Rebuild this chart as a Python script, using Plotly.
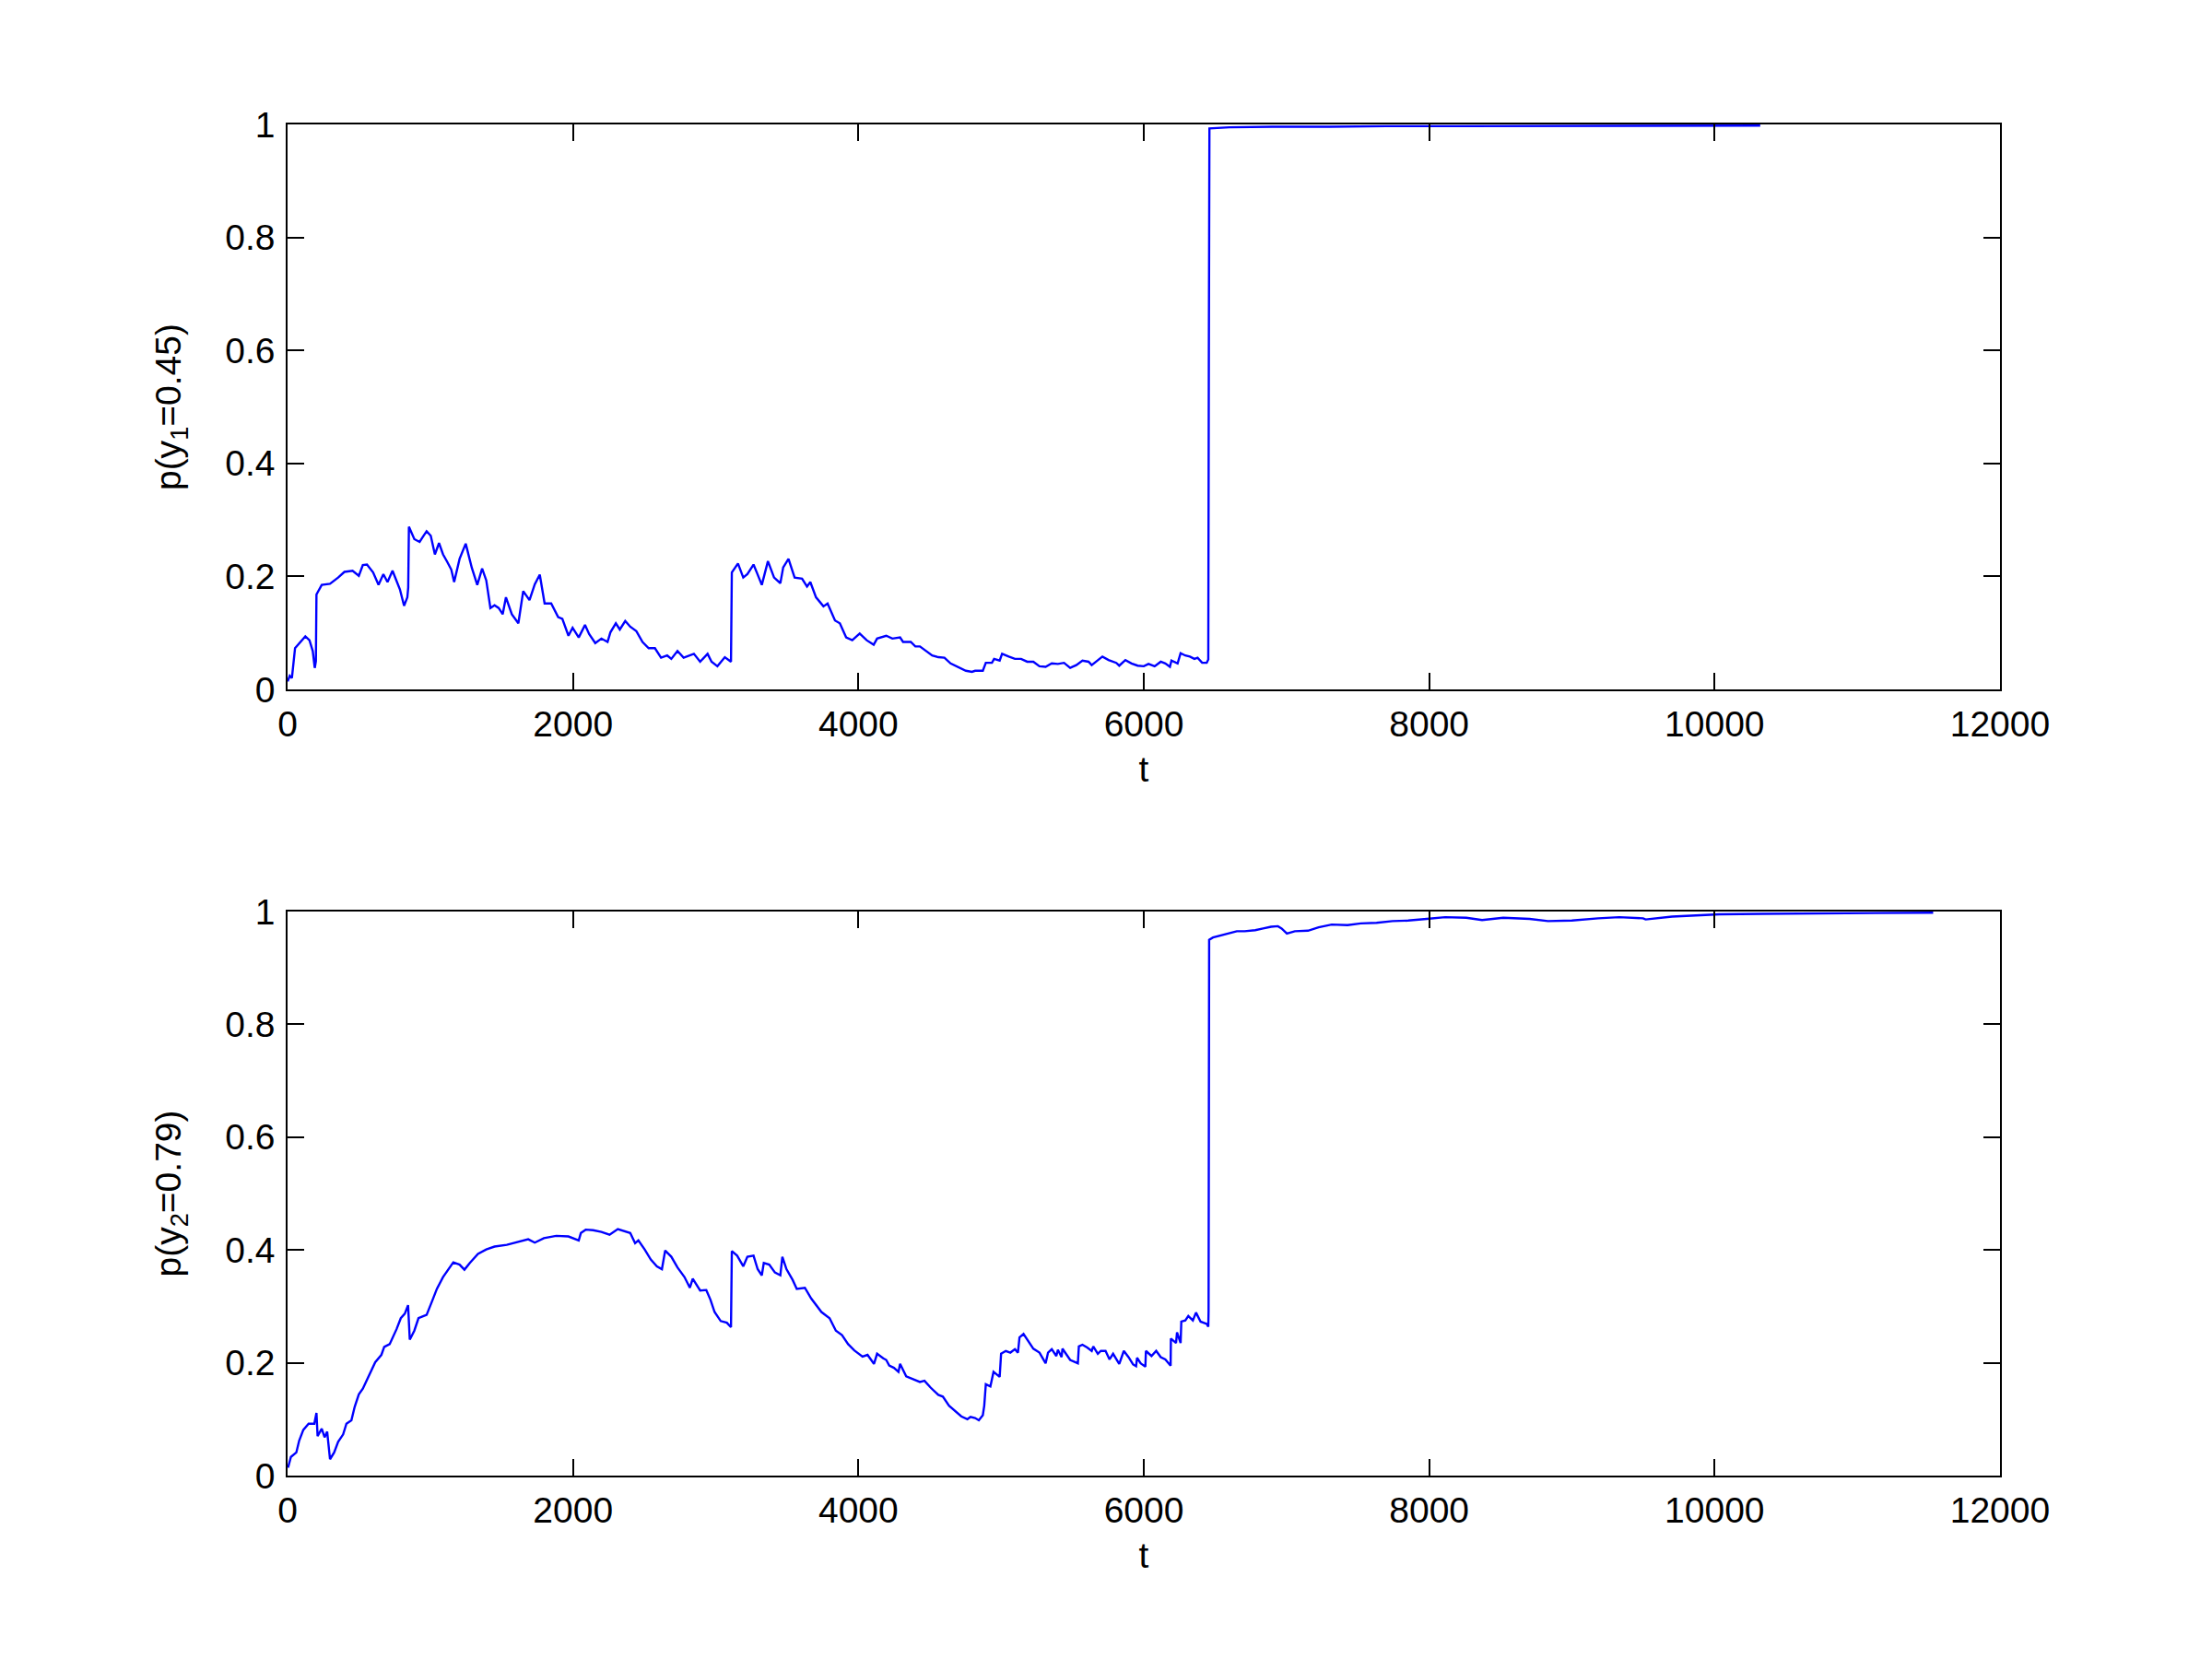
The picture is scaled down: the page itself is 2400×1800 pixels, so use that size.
import plotly.graph_objects as go

# ---- data ----
t_top = [0, 15, 30, 52, 124, 153, 176, 190, 198, 202, 239, 297, 354, 398, 455, 499, 527, 556, 599, 637,
         671, 700, 735, 764, 787, 816, 839, 845, 850, 888, 925, 945, 974, 1003, 1032, 1061, 1089, 1118,
         1147, 1167, 1205, 1248, 1291, 1329, 1363, 1392, 1421, 1450, 1479, 1507, 1530, 1571, 1617, 1651,
         1695, 1732, 1767, 1801, 1847, 1896, 1925, 1968, 1997, 2040, 2084, 2113, 2156, 2199, 2242, 2262,
         2300, 2328, 2366, 2401, 2444, 2487, 2530, 2574, 2617, 2660, 2689, 2732, 2775, 2847, 2891, 2943,
         2971, 3012, 3064, 3107, 3110, 3113, 3156, 3193, 3222, 3265, 3288, 3323, 3366, 3409, 3453, 3473,
         3510, 3553, 3605, 3640, 3663, 3703, 3755, 3784, 3836, 3870, 3914, 3957, 4009, 4058, 4107, 4131,
         4195, 4238, 4292, 4313, 4367, 4399, 4431, 4474, 4517, 4560, 4603, 4646, 4699, 4753, 4796, 4818,
         4872, 4893, 4936, 4951, 4990, 5007, 5054, 5097, 5140, 5183, 5226, 5269, 5312, 5355, 5398, 5441,
         5484, 5527, 5570, 5613, 5635, 5678, 5710, 5753, 5807, 5828, 5871, 5914, 5957, 6000, 6033, 6076,
         6119, 6151, 6183, 6194, 6237, 6258, 6291, 6323, 6355, 6377, 6409, 6441, 6452, 6456, 6460, 6600,
         6900, 7300, 7700, 8200, 8800, 9400, 9900, 10320]
p_top = [0.014, 0.024, 0.02, 0.073, 0.094, 0.087, 0.068, 0.038, 0.05, 0.168, 0.185, 0.187, 0.198, 0.208,
         0.21, 0.201, 0.22, 0.221, 0.207, 0.185, 0.204, 0.19, 0.21, 0.193, 0.177, 0.148, 0.163, 0.18, 0.288,
         0.266, 0.261, 0.269, 0.28, 0.272, 0.239, 0.259, 0.239, 0.226, 0.212, 0.19, 0.231, 0.258, 0.215,
         0.185, 0.214, 0.193, 0.144, 0.149, 0.144, 0.133, 0.163, 0.133, 0.117, 0.174, 0.158, 0.186, 0.203,
         0.152, 0.152, 0.128, 0.125, 0.095, 0.109, 0.092, 0.114, 0.098, 0.082, 0.09, 0.084, 0.101, 0.117,
         0.106, 0.121, 0.111, 0.103, 0.084, 0.073, 0.073, 0.056, 0.06, 0.054, 0.068, 0.056, 0.063, 0.049,
         0.063, 0.049, 0.041, 0.057, 0.049, 0.12, 0.207, 0.223, 0.198, 0.204, 0.221, 0.207, 0.185, 0.227,
         0.198, 0.188, 0.216, 0.231, 0.198, 0.196, 0.182, 0.19, 0.163, 0.147, 0.152, 0.122, 0.117, 0.092,
         0.087, 0.099, 0.087, 0.079, 0.09, 0.095, 0.09, 0.092, 0.084, 0.084, 0.076, 0.076, 0.068, 0.06,
         0.057, 0.056, 0.046, 0.04, 0.033, 0.031, 0.033, 0.033, 0.047, 0.047, 0.054, 0.051, 0.063, 0.058,
         0.054, 0.054, 0.049, 0.049, 0.041, 0.04, 0.046, 0.045, 0.047, 0.038, 0.043, 0.051, 0.049, 0.043,
         0.051, 0.058, 0.052, 0.047, 0.042, 0.052, 0.046, 0.042, 0.041, 0.045, 0.041, 0.049, 0.046, 0.04,
         0.051, 0.046, 0.064, 0.06, 0.058, 0.054, 0.056, 0.047, 0.047, 0.053, 0.6, 0.993, 0.995, 0.996,
         0.996, 0.997, 0.997, 0.997, 0.998, 0.998, 0.998]

t_bot = [3, 23, 61, 81, 110, 147, 187, 202, 210, 239, 259, 277, 297, 326, 354, 389, 412, 447, 470, 499,
         527, 571, 614, 657, 677, 715, 744, 764, 793, 821, 844, 856, 888, 917, 945, 974, 1012, 1046, 1089,
         1118, 1161, 1205, 1239, 1277, 1334, 1392, 1450, 1536, 1623, 1686, 1732, 1796, 1882, 1968, 2040,
         2055, 2089, 2141, 2199, 2256, 2314, 2357, 2401, 2435, 2458, 2502, 2545, 2588, 2623, 2646, 2689,
         2732, 2781, 2819, 2839, 2891, 2934, 2963, 2992, 3035, 3078, 3107, 3113, 3150, 3193, 3222, 3265,
         3294, 3323, 3337, 3375, 3415, 3453, 3467, 3496, 3539, 3568, 3625, 3669, 3741, 3798, 3842, 3885,
         3928, 3971, 4029, 4064, 4109, 4131, 4174, 4195, 4216, 4249, 4281, 4292, 4335, 4388, 4431, 4463,
         4506, 4560, 4592, 4635, 4678, 4721, 4764, 4786, 4818, 4844, 4872, 4882, 4893, 4925, 4947, 4990,
         5000, 5033, 5065, 5097, 5118, 5129, 5157, 5193, 5226, 5269, 5312, 5329, 5355, 5387, 5398, 5424,
         5430, 5484, 5538, 5545, 5570, 5603, 5635, 5646, 5678, 5699, 5732, 5760, 5785, 5828, 5860, 5893,
         5925, 5946, 5953, 5978, 6011, 6015, 6054, 6087, 6119, 6151, 6188, 6190, 6226, 6233, 6258, 6263,
         6291, 6312, 6344, 6366, 6398, 6441, 6452, 6454, 6456, 6458, 6485, 6541, 6596, 6652, 6707, 6781,
         6836, 6892, 6940, 6966, 7003, 7059, 7151, 7225, 7317, 7428, 7521, 7631, 7743, 7853, 7983, 8112,
         8260, 8371, 8519, 8704, 8833, 9000, 9184, 9332, 9499, 9517, 9702, 9887, 10035, 10331, 10849, 11532]
p_bot = [0.014, 0.033, 0.041, 0.062, 0.081, 0.092, 0.092, 0.111, 0.07, 0.083, 0.068, 0.078, 0.029, 0.041,
         0.06, 0.073, 0.092, 0.098, 0.122, 0.144, 0.154, 0.179, 0.201, 0.214, 0.228, 0.233, 0.249, 0.26,
         0.279, 0.287, 0.302, 0.241, 0.257, 0.279, 0.282, 0.285, 0.309, 0.331, 0.352, 0.363, 0.378, 0.374,
         0.365, 0.377, 0.393, 0.401, 0.406, 0.409, 0.415, 0.419, 0.413, 0.421, 0.425, 0.424, 0.417, 0.43,
         0.436, 0.435, 0.432, 0.427, 0.437, 0.434, 0.43, 0.412, 0.417, 0.401, 0.383, 0.371, 0.366, 0.399,
         0.388, 0.369, 0.352, 0.333, 0.349, 0.328, 0.329, 0.312, 0.29, 0.274, 0.271, 0.263, 0.398, 0.39,
         0.371, 0.388, 0.39, 0.366, 0.355, 0.377, 0.374, 0.36, 0.355, 0.388, 0.366, 0.347, 0.331, 0.333,
         0.314, 0.29, 0.279, 0.257, 0.249, 0.233, 0.222, 0.211, 0.214, 0.198, 0.216, 0.208, 0.205, 0.195,
         0.191, 0.184, 0.198, 0.176, 0.171, 0.166, 0.168, 0.156, 0.143, 0.14, 0.124, 0.115, 0.105, 0.1,
         0.104, 0.102, 0.098, 0.107, 0.124, 0.162, 0.158, 0.184, 0.175, 0.216, 0.221, 0.218, 0.224, 0.218,
         0.245, 0.251, 0.237, 0.225, 0.218, 0.199, 0.218, 0.224, 0.212, 0.223, 0.21, 0.225, 0.205, 0.199,
         0.229, 0.232, 0.227, 0.221, 0.229, 0.216, 0.221, 0.221, 0.206, 0.216, 0.198, 0.221, 0.21, 0.197,
         0.194, 0.209, 0.199, 0.193, 0.221, 0.212, 0.221, 0.21, 0.206, 0.195, 0.243, 0.235, 0.254, 0.235,
         0.273, 0.275, 0.283, 0.275, 0.289, 0.273, 0.269, 0.264, 0.291, 0.6, 0.95, 0.954, 0.958, 0.961,
         0.965, 0.965, 0.967, 0.97, 0.973, 0.974, 0.97, 0.961, 0.965, 0.966, 0.972, 0.977, 0.976, 0.979,
         0.98, 0.983, 0.984, 0.987, 0.99, 0.989, 0.985, 0.989, 0.987, 0.983, 0.984, 0.988, 0.99, 0.988,
         0.986, 0.991, 0.993, 0.995, 0.996, 0.997, 0.998]

x_ticks = [0, 2000, 4000, 6000, 8000, 10000, 12000]
x_tick_labels = ["0", "2000", "4000", "6000", "8000", "10000", "12000"]
y_ticks = [0, 0.2, 0.4, 0.6, 0.8, 1]
y_tick_labels = ["0", "0.2", "0.4", "0.6", "0.8", "1"]
y_titles = ["p(y<sub>1</sub>=0.45)", "p(y<sub>2</sub>=0.79)"]
x_title = "t"

FONT = "Liberation Sans, Arial, sans-serif"
FS = 39

fig = go.Figure()
fig.add_trace(go.Scatter(x=t_top, y=p_top, mode="lines", line=dict(color="#0000ff", width=2.4),
                         xaxis="x", yaxis="y", showlegend=False))
fig.add_trace(go.Scatter(x=t_bot, y=p_bot, mode="lines", line=dict(color="#0000ff", width=2.4),
                         xaxis="x2", yaxis="y2", showlegend=False))

X_DOM = [0.1267, 0.9008]

def xax(anchor):
    return dict(domain=X_DOM, range=[0, 12000], anchor=anchor, automargin=False,
                tickmode="array", tickvals=x_ticks, ticktext=x_tick_labels,
                ticks="inside", ticklen=18, tickwidth=1.7, tickcolor="black",
                showline=True, linecolor="black", linewidth=1.7, mirror="ticks",
                showgrid=False, zeroline=False, ticklabelstandoff=2,
                tickfont=dict(family=FONT, size=FS, color="black"),
                title=dict(text=x_title, font=dict(family=FONT, size=FS, color="black"), standoff=15))

def yax(anchor, dom, title):
    return dict(domain=dom, range=[0, 1], anchor=anchor, automargin=False,
                tickmode="array", tickvals=y_ticks, ticktext=y_tick_labels,
                ticks="inside", ticklen=18, tickwidth=1.7, tickcolor="black",
                showline=True, linecolor="black", linewidth=1.7, mirror="ticks",
                showgrid=False, zeroline=False, ticklabelstandoff=4,
                tickfont=dict(family=FONT, size=FS, color="black"),
                title=dict(text=title, font=dict(family=FONT, size=FS, color="black"), standoff=36))

fig.update_layout(
    width=2400, height=1800,
    margin=dict(l=0, r=0, t=0, b=0),
    paper_bgcolor="white", plot_bgcolor="white",
    xaxis=xax("y"), yaxis=yax("x", [0.5889, 0.9294], y_titles[0]),
    xaxis2=xax("y2"), yaxis2=yax("x2", [0.115, 0.455], y_titles[1]),
)

fig.write_html("out.html")
